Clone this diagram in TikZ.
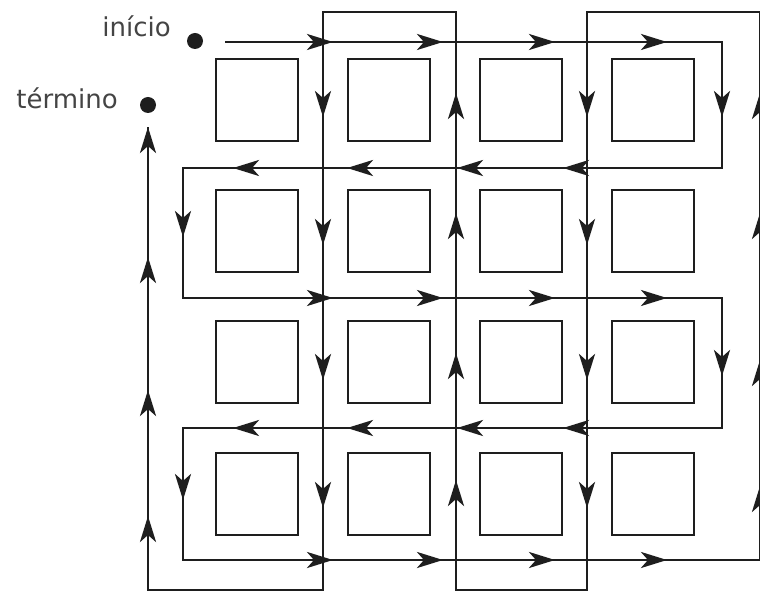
\documentclass[tikz,border=0pt]{standalone}
\usepackage{fontspec}
\setmainfont{DejaVu Sans}
\usetikzlibrary{arrows.meta}
\definecolor{ink}{HTML}{1E1E1E}
\definecolor{txt}{HTML}{444444}
\tikzset{
  sq/.style={draw=ink, line width=2.8pt, minimum size=82pt, inner sep=0pt},
  route/.style={draw=ink, line width=2.9pt},
  arr/.style={ink, line width=2.9pt, -{Stealth[length=26pt,width=16pt,inset=7pt]}},
  dot/.style={circle, fill=ink, minimum size=16pt, inner sep=0pt},
  lbl/.style={text=txt, font=\fontsize{26}{30}\selectfont, anchor=base east, inner sep=0pt}
}
\begin{document}
\begin{tikzpicture}[x=1pt,y=-1pt]
\useasboundingbox (0,0) rectangle (760,593);
\clip (0,0) rectangle (760,593);
% squares
\foreach \c/\x in {1/257,2/389,3/521,4/653}{
  \foreach \r/\y in {1/100,2/231,3/362,4/494}{
    \node[sq] (s\r\c) at (\x,\y) {};
  }
}
% dots and labels
\node[dot] (ini) at (195,41) {};
\node[dot] (ter) at (148,105) {};
\node[lbl] (linicio) at (171,37) {início};
\node[lbl] (ltermino) at (118,109) {término};
% route corners
\coordinate (p0) at (225,42);
\coordinate (p1) at (722,42);
\coordinate (p2) at (722,168);
\coordinate (p3) at (183,168);
\coordinate (p4) at (183,298);
\coordinate (p5) at (722,298);
\coordinate (p6) at (722,428);
\coordinate (p7) at (183,428);
\coordinate (p8) at (183,560);
\coordinate (p9) at (760,560);
\coordinate (p10) at (760,12);
\coordinate (p11) at (587,12);
\coordinate (p12) at (587,590);
\coordinate (p13) at (456,590);
\coordinate (p14) at (456,12);
\coordinate (p15) at (323,12);
\coordinate (p16) at (323,590);
\coordinate (p17) at (148,590);
\coordinate (p18) at (148,127);
\draw[route] (p0) -- (p1) -- (p2) -- (p3) -- (p4) -- (p5) -- (p6) -- (p7) -- (p8) -- (p9) -- (p10) -- (p11) -- (p12) -- (p13) -- (p14) -- (p15) -- (p16) -- (p17) -- (p18);
% arrows to the right
\foreach \y in {42,298,560}{
  \foreach \x in {333,443,555,667}{
    \draw[arr] (\x-26,\y) -- (\x,\y);
  }
}
% arrows to the left
\foreach \y in {168,428}{
  \foreach \x in {233,347,457,563}{
    \draw[arr] (\x+26,\y) -- (\x,\y);
  }
}
% arrows down
\foreach \y in {117,245,380,508}{
  \draw[arr] (323,\y-26) -- (323,\y);
  \draw[arr] (587,\y-26) -- (587,\y);
}
\foreach \y in {117,376}{
  \draw[arr] (722,\y-26) -- (722,\y);
}
\foreach \y in {237,500}{
  \draw[arr] (183,\y-26) -- (183,\y);
}
% arrows up
\foreach \y in {93,213,353,480}{
  \draw[arr] (456,\y+26) -- (456,\y);
}
\foreach \y in {93,213,360,486}{
  \draw[arr] (760,\y+26) -- (760,\y);
}
\foreach \y in {127,257,390,516}{
  \draw[arr] (148,\y+26) -- (148,\y);
}
\end{tikzpicture}
\end{document}
